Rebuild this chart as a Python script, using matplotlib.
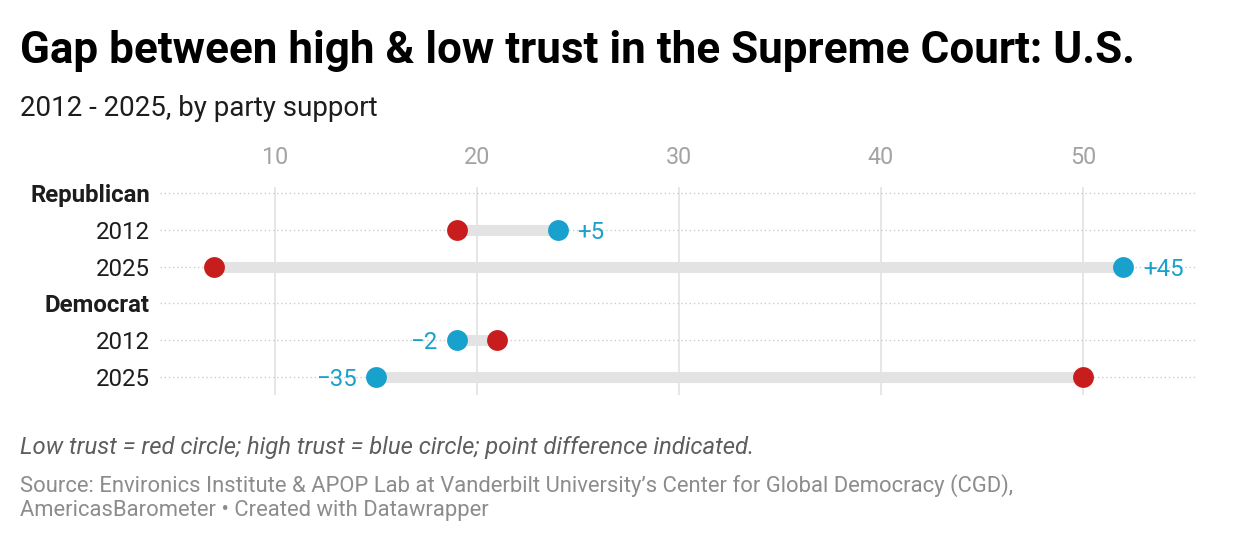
import matplotlib.pyplot as plt

plt.rcParams['font.family'] = ['Roboto', 'DejaVu Sans']

# rows from top to bottom
row_labels = ['Republican', '2012', '2025', 'Democrat', '2012', '2025']
row_bold = [True, False, False, True, False, False]
low_trust = [None, 19, 7, None, 21, 50]
high_trust = [None, 24, 52, None, 19, 15]
diff_labels = [None, '+5', '+45', None, '\u22122', '\u221235']
ticks = [10, 20, 30, 40, 50]

RED = '#c71e1d'
BLUE = '#18a1cd'

W, H = 1240, 544
fig = plt.figure(figsize=(W / 100, H / 100), dpi=100)

# axes placed in pixel space
px_l, px_r, px_t, px_b = 160, 1198, 187, 395
ax = fig.add_axes([px_l / W, 1 - px_b / H, (px_r - px_l) / W, (px_b - px_t) / H])

ppu = (1083 - 275) / 40.0
ax.set_xlim(10 + (px_l - 275) / ppu, 10 + (px_r - 275) / ppu)
row_sp = (377 - 193) / 5.0
ax.set_ylim(5 + (px_b - 377) / row_sp, -(193 - px_t) / row_sp)

for s in ax.spines.values():
    s.set_visible(False)
ax.set_yticks([])
ax.set_xticks(ticks)
ax.xaxis.tick_top()
ax.tick_params(axis='x', length=0, pad=13, labelsize=16.8, labelcolor='#a3a3a3')
for t in ticks:
    ax.axvline(t, color='#e2e2e2', lw=1.2, zorder=0)

for i, lab in enumerate(row_labels):
    ax.axhline(i, color='#cccccc', lw=1, ls=(0, (1, 2)), zorder=1)
    ax.text(-10 / (px_r - px_l), i, lab, transform=ax.get_yaxis_transform(),
            ha='right', va='center_baseline', fontsize=17.3,
            fontweight='bold' if row_bold[i] else 'normal', color='#1d1d1d')
    lo, hi = low_trust[i], high_trust[i]
    if lo is None:
        continue
    ax.plot([lo, hi], [i, i], color='#e3e3e3', lw=8, solid_capstyle='butt', zorder=2)
    ax.plot(lo, i, 'o', ms=15, color=RED, mec='none', zorder=3)
    ax.plot(hi, i, 'o', ms=15, color=BLUE, mec='none', zorder=3)
    if hi >= lo:
        ax.annotate(diff_labels[i], (hi, i), xytext=(14, 0), textcoords='offset points',
                    ha='left', va='center_baseline', fontsize=17.3, color=BLUE)
    else:
        ax.annotate(diff_labels[i], (hi, i), xytext=(-14, 0), textcoords='offset points',
                    ha='right', va='center_baseline', fontsize=17.3, color=BLUE)

fig.text(20 / W, 1 - 46 / H, 'Gap between high & low trust in the Supreme Court: U.S.',
         fontsize=31.7, fontweight='bold', color='#000000', va='center_baseline', ha='left')
fig.text(20 / W, 1 - 106 / H, '2012 - 2025, by party support',
         fontsize=20, color='#1d1d1d', va='center_baseline', ha='left')
fig.text(20 / W, 1 - 445 / H,
         'Low trust = red circle; high trust = blue circle; point difference indicated.',
         fontsize=17.2, style='italic', color='#5e5e5e', va='center_baseline', ha='left')
fig.text(20 / W, 1 - 483 / H,
         'Source: Environics Institute & APOP Lab at Vanderbilt University\u2019s Center for Global Democracy (CGD),',
         fontsize=15.8, color='#8c8c8c', va='center_baseline', ha='left')
fig.text(20 / W, 1 - 508 / H, 'AmericasBarometer \u2022 Created with Datawrapper',
         fontsize=15.8, color='#8c8c8c', va='center_baseline', ha='left')

fig.savefig('out.png', dpi=100, facecolor='white')
